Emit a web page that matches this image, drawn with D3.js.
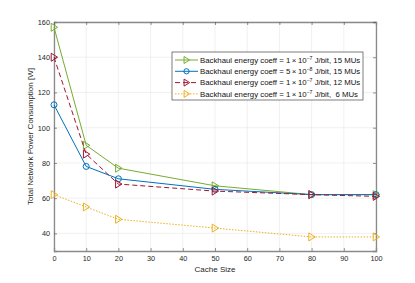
<!DOCTYPE html>
<html>
<head>
<meta charset="utf-8">
<script src="https://cdn.jsdelivr.net/npm/d3@7"></script>
<style>
  body { margin: 0; background: #fff; }
  svg { font-family: "Liberation Sans", Arial, sans-serif; }
</style>
</head>
<body>
<svg id="chart" width="415" height="283"></svg>
<script>
const cacheSizes = [0, 10, 20, 50, 80, 100];
const green15 = [157, 90, 77, 67, 62, 62];
const blue15 = [113, 78, 71, 65, 62, 62];
const red12 = [140, 85, 68, 64, 62, 61];
const yellow6 = [62, 55, 48, 43, 38, 38];
const xTicks = [0, 10, 20, 30, 40, 50, 60, 70, 80, 90, 100];
const yTicks = [40, 60, 80, 100, 120, 140, 160];

const series = [
  { name: "green", values: green15, color: "#77AC30", dash: null, marker: "tri", coef: "1", exp: "7", mus: "15" },
  { name: "blue", values: blue15, color: "#0072BD", dash: null, marker: "circle", coef: "5", exp: "8", mus: "15" },
  { name: "red", values: red12, color: "#A2142F", dash: "5,3", marker: "tri", coef: "1", exp: "7", mus: "12" },
  { name: "yellow", values: yellow6, color: "#EDB120", dash: "1.5,1.5", marker: "tri", coef: "1", exp: "7", mus: "\u00a06" }
];

const margin = { left: 54, right: 39, top: 22, bottom: 32 };
const width = 415 - margin.left - margin.right;
const height = 283 - margin.top - margin.bottom;

const svg = d3.select("#chart");
const g = svg.append("g").attr("transform", `translate(${margin.left},${margin.top})`);

const x = d3.scaleLinear().domain([0, 100]).range([0, width]);
const y = d3.scaleLinear().domain([30, 160]).range([height, 0]);

// grid
g.append("g").selectAll("line").data(xTicks).join("line")
  .attr("x1", d => x(d)).attr("x2", d => x(d))
  .attr("y1", 0).attr("y2", height)
  .attr("stroke", "#e6e6e6").attr("stroke-width", 0.6);
g.append("g").selectAll("line").data(yTicks).join("line")
  .attr("x1", 0).attr("x2", width)
  .attr("y1", d => y(d)).attr("y2", d => y(d))
  .attr("stroke", "#e6e6e6").attr("stroke-width", 0.6);

// axes
const axisColor = "#262626";
const xAxisB = g.append("g").attr("transform", `translate(0,${height})`)
  .call(d3.axisBottom(x).tickValues(xTicks).tickSize(-3).tickPadding(5));
const yAxisL = g.append("g")
  .call(d3.axisLeft(y).tickValues(yTicks).tickSize(-3).tickPadding(4));
const xAxisT = g.append("g")
  .call(d3.axisTop(x).tickValues(xTicks).tickSize(-3).tickFormat(""));
const yAxisR = g.append("g").attr("transform", `translate(${width},0)`)
  .call(d3.axisRight(y).tickValues(yTicks).tickSize(-3).tickFormat(""));
[xAxisB, yAxisL, xAxisT, yAxisR].forEach(a => {
  a.select(".domain").attr("stroke", "#8a8a8a").attr("stroke-width", 1.3);
  a.selectAll(".tick line").attr("stroke", "#4d4d4d").attr("stroke-width", 0.6);
  a.selectAll("text").attr("fill", axisColor).style("font-size", "7.3px");
});

// lines
const line = d3.line().x((d, i) => x(cacheSizes[i])).y(d => y(d));

function drawMarker(sel, type, color, size) {
  if (type === "circle") {
    sel.append("circle").attr("r", size * 0.75)
      .attr("fill", "none").attr("stroke", color).attr("stroke-width", 1);
  } else {
    const s = size;
    sel.append("path").attr("d", `M${-s * 0.7},${-s} L${s * 0.9},0 L${-s * 0.7},${s} Z`)
      .attr("fill", "none").attr("stroke", color).attr("stroke-width", 1);
  }
}

series.forEach(s => {
  g.append("path").datum(s.values)
    .attr("d", line)
    .attr("fill", "none")
    .attr("stroke", s.color)
    .attr("stroke-width", 1)
    .attr("stroke-dasharray", s.dash);
  s.values.forEach((v, i) => {
    const m = g.append("g").attr("transform", `translate(${x(cacheSizes[i])},${y(v)})`);
    drawMarker(m, s.marker, s.color, 4);
  });
});

// axis labels
svg.append("text")
  .attr("x", margin.left + width / 2).attr("y", 272)
  .attr("text-anchor", "middle").attr("fill", axisColor)
  .style("font-size", "8px").text("Cache Size");
svg.append("text")
  .attr("transform", `translate(33,${margin.top + height / 2}) rotate(-90)`)
  .attr("text-anchor", "middle").attr("fill", axisColor)
  .style("font-size", "8px").text("Total Network Power Consumption [W]");

// legend
const lg = svg.append("g").attr("transform", "translate(172,52)");
lg.append("rect").attr("width", 191).attr("height", 48)
  .attr("fill", "#fff").attr("stroke", "#262626").attr("stroke-width", 0.6);
series.forEach((s, i) => {
  const yy = 8 + i * 11.3;
  const row = lg.append("g").attr("transform", `translate(0,${yy})`);
  row.append("line").attr("x1", 3).attr("x2", 26).attr("y1", 0).attr("y2", 0)
    .attr("stroke", s.color).attr("stroke-width", 1).attr("stroke-dasharray", s.dash);
  const m = row.append("g").attr("transform", "translate(14.5,0)");
  drawMarker(m, s.marker, s.color, 3.5);
  const t = row.append("text").attr("x", 28).attr("y", 2.7)
    .attr("fill", "#111").style("font-size", "7.8px");
  t.append("tspan").text(`Backhaul energy coeff = ${s.coef}\u2009\u00d7\u200910`);
  t.append("tspan").attr("dy", -3).style("font-size", "5.2px").text(`\u2212${s.exp}`);
  t.append("tspan").attr("dy", 3).text(`\u00a0J/bit, ${s.mus} MUs`);
});
</script>
</body>
</html>
